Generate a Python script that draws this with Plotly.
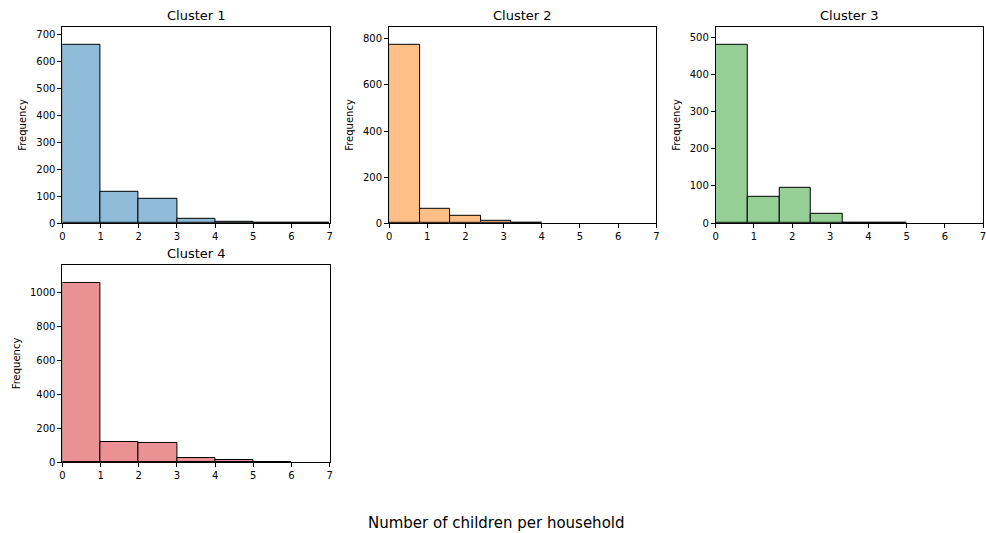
import plotly.graph_objects as go

clusters = ["Cluster 1", "Cluster 2", "Cluster 3", "Cluster 4"]

edges_c1 = [0, 1, 2, 3, 4, 5, 6, 7]
counts_c1 = [663, 117, 92, 17, 5, 0, 3]

edges_c2 = [0, 0.8, 1.6, 2.4, 3.2, 4.0]
counts_c2 = [775, 61, 30, 10, 1]

edges_c3 = [0, 5/6, 10/6, 2.5, 20/6, 25/6, 5.0]
counts_c3 = [480, 70, 95, 24, 2, 1]

edges_c4 = [0, 1, 2, 3, 4, 5, 6]
counts_c4 = [1058, 121, 113, 26, 12, 3]

colors = ["rgb(143,187,217)", "rgb(255,191,134)", "rgb(149,207,149)", "rgb(234,146,147)"]
y_ticks = [[0, 100, 200, 300, 400, 500, 600, 700],
           [0, 200, 400, 600, 800],
           [0, 100, 200, 300, 400, 500],
           [0, 200, 400, 600, 800, 1000]]
x_ticks = [0, 1, 2, 3, 4, 5, 6, 7]
x_label = "Number of children per household"
y_label = "Frequency"

all_edges = [edges_c1, edges_c2, edges_c3, edges_c4]
all_counts = [counts_c1, counts_c2, counts_c3, counts_c4]

W, H = 986, 533
# observed render mapping of the paper inside the screenshot
OX, PW, PH = 4.0, 978.0, 526.0


def fx(px):
    return (px - OX) / PW


def fy(py):
    return 1 - py / PH


boxes = [(63.3, 330.0, 26.7, 222.3),
         (389.3, 656.0, 26.7, 222.3),
         (715.3, 982.7, 26.7, 222.3),
         (63.3, 330.0, 264.0, 460.3)]
title_y = [15, 15, 15, 252.5]

fig = go.Figure()
layout = {}
for i in range(4):
    e = all_edges[i]
    c = all_counts[i]
    centers = [(e[k] + e[k + 1]) / 2 for k in range(len(c))]
    widths = [e[k + 1] - e[k] for k in range(len(c))]
    xa = "x" if i == 0 else f"x{i+1}"
    ya = "y" if i == 0 else f"y{i+1}"
    fig.add_trace(go.Bar(x=centers, y=c, width=widths, xaxis=xa, yaxis=ya,
                         marker=dict(color=colors[i], line=dict(color="black", width=1)),
                         showlegend=False))
    x0, x1, yt, yb = boxes[i]
    key = "" if i == 0 else str(i + 1)
    axcommon = dict(showline=True, linecolor="black", linewidth=1, mirror=True,
                    ticks="outside", ticklen=4, tickcolor="black", showgrid=False,
                    zeroline=False, tickfont=dict(family="DejaVu Sans", size=10, color="black"))
    layout["xaxis" + key] = dict(domain=[fx(x0), min(fx(x1), 1.0)], anchor=ya, range=[0, 7],
                                 tickvals=x_ticks, ticklabeloverflow="allow", **axcommon)
    ymax = max(c) * 1.1
    layout["yaxis" + key] = dict(domain=[fy(yb), fy(yt)], anchor=xa, range=[0, ymax],
                                 tickvals=y_ticks[i],
                                 title=dict(text=y_label, font=dict(family="DejaVu Sans", size=10, color="black"), standoff=7),
                                 **axcommon)

annotations = []
for i in range(4):
    x0, x1, yt, yb = boxes[i]
    annotations.append(dict(text=clusters[i], x=fx((x0 + x1) / 2), y=fy(title_y[i]),
                            xref="paper", yref="paper", xanchor="center", yanchor="middle",
                            showarrow=False, font=dict(family="DejaVu Sans", size=13, color="black")))
annotations.append(dict(text=x_label, x=fx(496), y=fy(521), xref="paper", yref="paper",
                        xanchor="center", yanchor="middle", showarrow=False,
                        font=dict(family="DejaVu Sans", size=15, color="black")))

fig.update_layout(width=W, height=H, margin=dict(l=0, r=0, t=0, b=0),
                  plot_bgcolor="white", paper_bgcolor="white", bargap=0,
                  annotations=annotations, **layout)

fig.write_html("out.html")
